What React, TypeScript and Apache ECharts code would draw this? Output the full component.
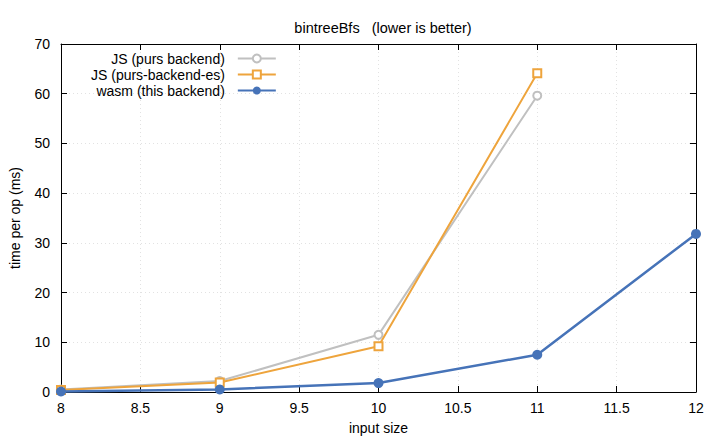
import React, { useEffect, useRef } from "react";
import * as echarts from "echarts";

const titleText = "bintreeBfs   (lower is better)";
const xName = "input size";
const yName = "time per op (ms)";

const seriesNames = ["JS (purs backend)", "JS (purs-backend-es)", "wasm (this backend)"];
const jsPursX = [8, 9, 10, 11];
const jsPursY = [0.5, 2.2, 11.5, 59.6];
const jsEsX = [8, 9, 10, 11];
const jsEsY = [0.4, 1.9, 9.2, 64.1];
const wasmX = [8, 9, 10, 11, 12];
const wasmY = [0.1, 0.5, 1.8, 7.5, 31.8];

const colors = ["#c0c0c0", "#eea43c", "#4673b8"];
const FONT = "'Liberation Sans', Arial, Helvetica, sans-serif";

const zip = (xs: number[], ys: number[]) => xs.map((x, i) => [x, ys[i]]);

export default function App() {
  const ref = useRef<HTMLDivElement>(null);
  useEffect(() => {
    if (!ref.current) return;
    const chart = echarts.init(ref.current, undefined, { renderer: "svg" });
    const axisCommon = {
      type: "value" as const,
      axisLine: { show: true, onZero: false, lineStyle: { color: "#000", width: 1 } },
      axisTick: { show: true, inside: true, length: 6, lineStyle: { color: "#000" } },
    };
    const gridLine = { show: true, lineStyle: { color: "#e2e2e2", type: [1, 3] as any, width: 1 } };
    chart.setOption({
      animation: false,
      backgroundColor: "#fff",
      textStyle: { fontFamily: FONT },
      title: {
        text: titleText,
        left: 378,
        textAlign: "center",
        top: 15,
        textStyle: { fontFamily: FONT, fontSize: 14.5, fontWeight: "normal", color: "#000" },
      },
      grid: { left: 61, right: 24, top: 44, bottom: 48, outerBoundsMode: "none", containLabel: false },
      legend: {
        orient: "vertical",
        left: 86,
        top: 46,
        align: "right",
        itemWidth: 38,
        itemHeight: 10,
        itemGap: 1,
        data: seriesNames,
        textStyle: { fontFamily: FONT, fontSize: 14, color: "#000", padding: [0, 8, 0, 0], lineHeight: 15 },
      },
      xAxis: [
        {
          ...axisCommon,
          position: "bottom",
          min: 8,
          max: 12,
          interval: 0.5,
          name: xName,
          nameLocation: "middle",
          nameGap: 29,
          nameTextStyle: { fontFamily: FONT, fontSize: 14, color: "#000" },
          axisLabel: { fontFamily: FONT, fontSize: 14, color: "#000", margin: 9 },
          splitLine: gridLine,
        },
        {
          ...axisCommon,
          position: "top",
          min: 8,
          max: 12,
          interval: 0.5,
          axisLabel: { show: false },
          splitLine: { show: false },
        },
      ],
      yAxis: [
        {
          ...axisCommon,
          position: "left",
          min: 0,
          max: 70,
          interval: 10,
          name: yName,
          nameLocation: "middle",
          nameGap: 39,
          nameTextStyle: { fontFamily: FONT, fontSize: 14, color: "#000" },
          axisLabel: { fontFamily: FONT, fontSize: 14, color: "#000", margin: 11 },
          splitLine: gridLine,
        },
        {
          ...axisCommon,
          position: "right",
          min: 0,
          max: 70,
          interval: 10,
          axisLabel: { show: false },
          splitLine: { show: false },
        },
      ],
      series: [
        {
          name: seriesNames[0],
          type: "line",
          data: zip(jsPursX, jsPursY),
          symbol: "emptyCircle",
          symbolSize: 8,
          color: colors[0],
          lineStyle: { width: 2, color: colors[0] },
          itemStyle: { color: colors[0], borderWidth: 1.8 },
          z: 2,
        },
        {
          name: seriesNames[1],
          type: "line",
          data: zip(jsEsX, jsEsY),
          symbol: "emptyRect",
          symbolSize: 8,
          color: colors[1],
          lineStyle: { width: 2, color: colors[1] },
          itemStyle: { color: colors[1], borderWidth: 1.8 },
          z: 3,
        },
        {
          name: seriesNames[2],
          type: "line",
          data: zip(wasmX, wasmY),
          symbol: "circle",
          symbolSize: 10,
          color: colors[2],
          lineStyle: { width: 2.5, color: colors[2] },
          itemStyle: { color: colors[2] },
          z: 4,
        },
      ],
    });
    return () => chart.dispose();
  }, []);
  return <div ref={ref} style={{ width: 720, height: 440, position: "absolute", left: 0, top: 0 }} />;
}
